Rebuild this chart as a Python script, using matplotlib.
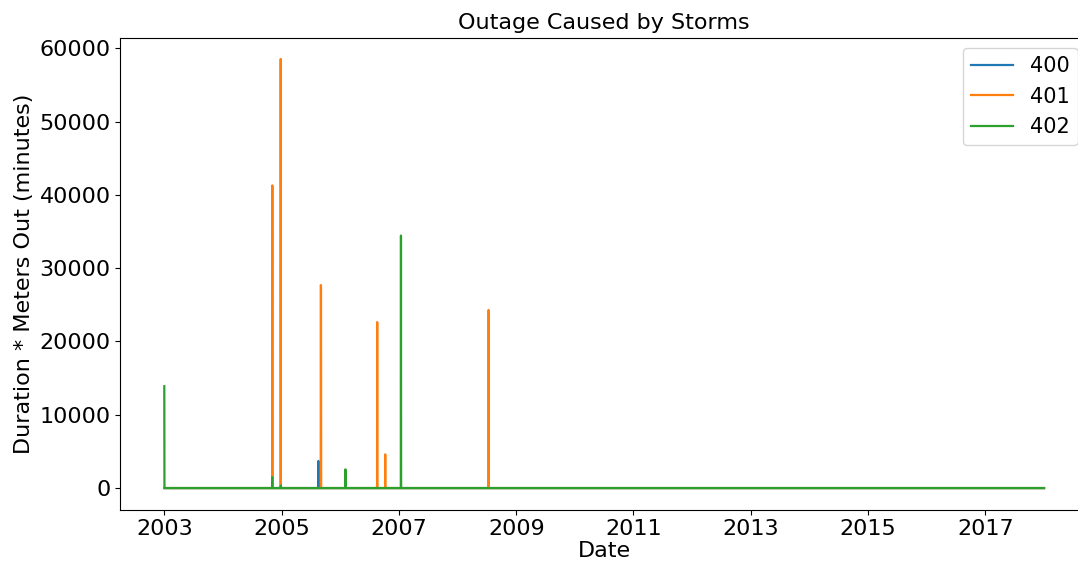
import pandas as pd
import matplotlib
matplotlib.use("Agg")
import matplotlib.pyplot as plt
import matplotlib.dates as mdates

# daily outage totals, zero except on storm days
start_date = "2003-01-01"
end_date = "2018-01-01"

feeders = ["400", "401", "402"]

storm_dates_400 = ["2005-08-18"]
storm_vals_400 = [3700]

storm_dates_401 = ["2004-11-04", "2004-12-26", "2005-09-02", "2005-09-03",
                   "2006-08-19", "2006-10-08", "2008-07-13"]
storm_vals_401 = [41300, 58550, 27700, 27500, 22650, 4600, 24300]

storm_dates_402 = ["2003-01-01", "2004-11-03", "2004-12-27", "2006-02-02",
                   "2007-01-14"]
storm_vals_402 = [13900, 1500, 350, 2550, 34450]

year_ticks = ["2003", "2005", "2007", "2009", "2011", "2013", "2015", "2017"]

days = pd.date_range(start_date, end_date, freq="D")

def daily(dates, vals):
    s = pd.Series(vals, index=pd.to_datetime(dates))
    return s.reindex(days, fill_value=0)

df = pd.DataFrame({
    "400": daily(storm_dates_400, storm_vals_400),
    "401": daily(storm_dates_401, storm_vals_401),
    "402": daily(storm_dates_402, storm_vals_402),
}, index=days)

fig = plt.figure(figsize=(10.78, 5.65), dpi=100)
ax = fig.add_axes([0.1116, 0.0982, 0.8977, 0.8354])

for f in feeders:
    ax.plot(df.index, df[f], label=f, linewidth=1.6)

ax.set_xticks(pd.to_datetime([y + "-01-01" for y in year_ticks]))
ax.xaxis.set_major_formatter(mdates.DateFormatter("%Y"))
ax.tick_params(labelsize=16)
ax.spines["right"].set_visible(False)

ax.set_title("Outage Caused by Storms", fontsize=16)
ax.set_xlabel("Date", fontsize=16, labelpad=1)
ax.set_ylabel("Duration * Meters Out (minutes)", fontsize=16)
ax.legend(fontsize=15, loc="upper right")

plt.savefig("out.png", dpi=100)
